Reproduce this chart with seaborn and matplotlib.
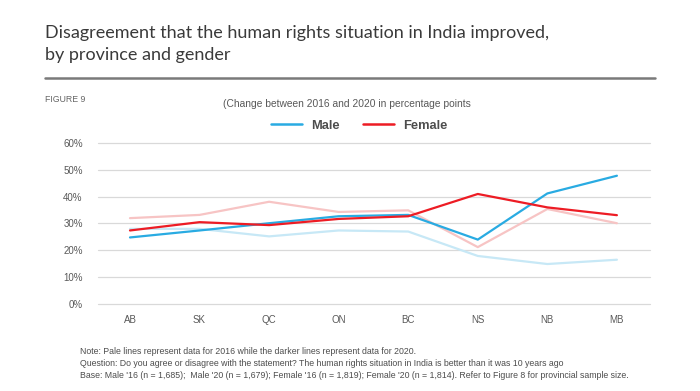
import matplotlib
matplotlib.use("Agg")
import matplotlib.pyplot as plt
import seaborn as sns
import pandas as pd
from matplotlib.lines import Line2D

provinces = ["AB", "SK", "QC", "ON", "BC", "NS", "NB", "MB"]
male_2016 = [28.0, 28.0, 25.2, 27.4, 27.0, 17.9, 14.9, 16.5]
female_2016 = [32.0, 33.2, 38.1, 34.3, 34.9, 21.2, 35.4, 30.1]
male_2020 = [24.8, 27.4, 30.1, 32.7, 33.2, 24.0, 41.2, 47.8]
female_2020 = [27.4, 30.5, 29.4, 31.7, 32.7, 41.0, 36.0, 33.1]
yticks = [0, 10, 20, 30, 40, 50, 60]

series = {
    "Male '16": male_2016,
    "Female '16": female_2016,
    "Male '20": male_2020,
    "Female '20": female_2020,
}
rows = []
for name, vals in series.items():
    for i, (p, v) in enumerate(zip(provinces, vals)):
        rows.append({"series": name, "idx": i, "province": p, "value": v})
df = pd.DataFrame(rows)

palette = {
    "Male '16": "#C7E8F6",
    "Female '16": "#F7C4C4",
    "Male '20": "#29ABE2",
    "Female '20": "#ED1C24",
}

sns.set_theme(style="white")
plt.rcParams["font.family"] = ["Liberation Sans", "DejaVu Sans"]

fig = plt.figure(figsize=(7, 3.91), dpi=100)
ax = fig.add_axes([0.14, 0.2225, 0.789, 0.4118])

sns.lineplot(data=df, x="idx", y="value", hue="series", palette=palette,
             hue_order=["Male '16", "Female '16", "Male '20", "Female '20"],
             linewidth=1.6, ax=ax, legend=False, sort=False)

ax.set_xlim(-0.46, 7.48)
ax.set_ylim(0, 60)
ax.set_yticks(yticks)
ax.set_yticklabels([f"{t}%" for t in yticks], fontsize=7, color="#595959")
ax.set_xticks(range(len(provinces)))
ax.set_xticklabels(provinces, fontsize=7, color="#595959")
ax.tick_params(axis="x", length=0, pad=8)
ax.tick_params(axis="y", length=0, pad=11)
ax.set_xlabel("")
ax.set_ylabel("")
for s in ax.spines.values():
    s.set_visible(False)
ax.grid(False)
for t in yticks:
    ax.axhline(t, color="#D9D9D9", linewidth=0.9, zorder=0, clip_on=False)

handles = [Line2D([], [], color=palette["Male '20"], lw=1.8),
           Line2D([], [], color=palette["Female '20"], lw=1.8)]
fig.legend(handles, ["Male", "Female"], loc="center", bbox_to_anchor=(0.513, 0.678),
           ncol=2, frameon=False, handlelength=2.4, columnspacing=1.8,
           handletextpad=0.7,
           prop={"family": "Liberation Sans", "weight": "bold", "size": 9.3})
for t in fig.legends[0].get_texts():
    t.set_color("#4D4D4D")

fig.text(0.064, 0.935, "Disagreement that the human rights situation in India improved,\nby province and gender",
         fontsize=13, family="Lato", color="#3A3A3A", va="top", ha="left", linespacing=1.4)
fig.add_artist(Line2D([0.064, 0.936], [0.80, 0.80], color="#7A7A7A", lw=1.8,
                      transform=fig.transFigure))
fig.text(0.064, 0.745, "FIGURE 9", fontsize=6.3, color="#666666", va="center", ha="left")
fig.text(0.495, 0.735, "(Change between 2016 and 2020 in percentage points", fontsize=7.4,
         color="#595959", va="center", ha="center")

notes = [
    "Note: Pale lines represent data for 2016 while the darker lines represent data for 2020.",
    "Question: Do you agree or disagree with the statement? The human rights situation in India is better than it was 10 years ago",
    "Base: Male '16 (n = 1,685);  Male '20 (n = 1,679); Female '16 (n = 1,819); Female '20 (n = 1,814). Refer to Figure 8 for provincial sample size.",
]
for i, n in enumerate(notes):
    fig.text(0.114, 0.102 - i * 0.031, n, fontsize=6.3, color="#4D4D4D", va="center", ha="left")

fig.savefig("out.png", dpi=100, facecolor="white")
